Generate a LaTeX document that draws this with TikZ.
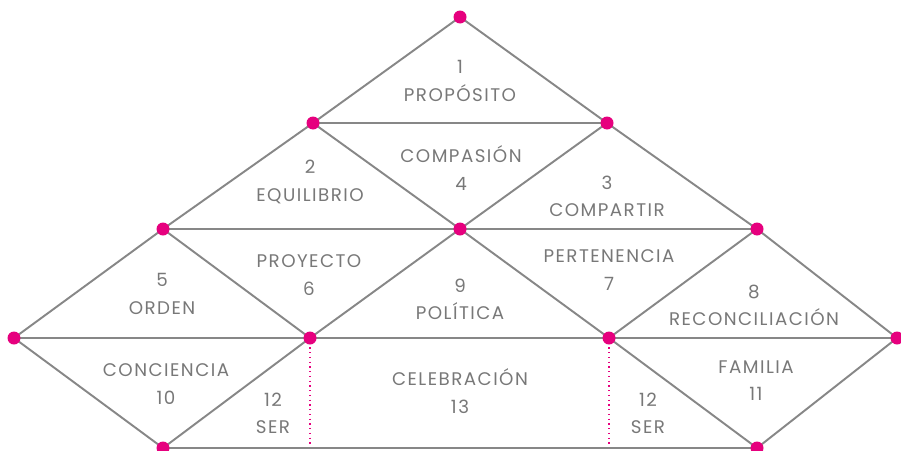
\documentclass[tikz,border=0pt]{standalone}
\usepackage{fontspec}
\setmainfont{Poppins}[LetterSpace=8]
\usetikzlibrary{shapes.geometric}
\definecolor{linegray}{RGB}{135,135,135}
\definecolor{textgray}{RGB}{120,120,120}
\definecolor{dotpink}{RGB}{230,0,126}

\begin{document}
\begin{tikzpicture}[x=0.02cm,y=-0.02cm]

\tikzstyle{e} = [draw=linegray, line width=1.1pt]
\tikzstyle{v} = [circle, fill=dotpink, inner sep=0pt, minimum size=2.6mm]
\tikzstyle{t} = [text=textgray, align=center, font=\fontsize{10.4}{15.5}\selectfont]
\tikzstyle{d} = [draw=dotpink, line width=0.7pt, dotted]

\useasboundingbox (0,0) rectangle (901,450);

\coordinate(T)at(460,17);
\coordinate(A)at(313,123);
\coordinate(B)at(607,123);
\coordinate(C)at(163,229);
\coordinate(M)at(460,229);
\coordinate(D)at(757,229);
\coordinate(L)at(14,338);
\coordinate(P)at(310,338);
\coordinate(Q)at(609,338);
\coordinate(R)at(897,338);
\coordinate(BL)at(163,448);
\coordinate(BR)at(757,448);
\coordinate(PB)at(310,448);
\coordinate(QB)at(609,448);

\draw[d](P) -- (PB);
\draw[d](Q) -- (QB);

\draw[e](T) -- (A) -- (C) -- (L);
\draw[e](T) -- (B) -- (D) -- (R);
\draw[e](A) -- (B);
\draw[e](C) -- (D);
\draw[e](L) -- (R);
\draw[e](BL) -- (BR);
\draw[e](A) -- (M) -- (Q) -- (BR) -- (R);
\draw[e](B) -- (M) -- (P) -- (BL) -- (L);
\draw[e](C) -- (P);
\draw[e](D) -- (Q);

\foreach \p in {T,A,B,C,M,D,L,P,Q,R,BL,BR}
  \node[v] at (\p) {};

\node[t](n1)at(460,81){1\\PROPÓSITO};
\node[t](n4)at(461,168){COMPASIÓN\\4};
\node[t](n2)at(310,182){2\\EQUILIBRIO};
\node[t](n3)at(607,196){3\\COMPARTIR};
\node[t](n6)at(309,275){PROYECTO\\6};
\node[t](n5)at(162,294){5\\ORDEN};
\node[t](n9)at(460,299){9\\POLÍTICA};
\node[t](n7)at(609,270){PERTENENCIA\\7};
\node[t](n8)at(754,305){8\\RECONCILIACIÓN};
\node[t](n10)at(166,384){CONCIENCIA\\10};
\node[t](n12a)at(273,413){12\\SER};
\node[t](n13)at(460,391){CELEBRACIÓN\\13};
\node[t](n11)at(756,381){FAMILIA\\11};
\node[t](n12b)at(648,413){12\\SER};

\end{tikzpicture}
\end{document}
